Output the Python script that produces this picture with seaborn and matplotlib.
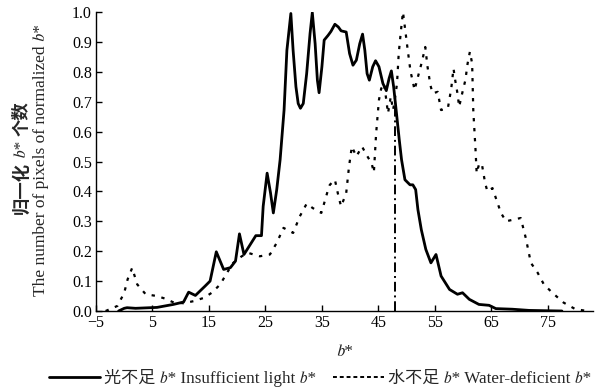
import matplotlib
matplotlib.use("Agg")
import matplotlib.pyplot as plt
import seaborn as sns
import pandas as pd
from matplotlib.lines import Line2D

# Insufficient light b*
light_b = [-1.0, 0.0, 0.5, 2.0, 5.8, 8.7, 10.5, 11.4, 12.6, 14.3, 15.2, 16.3, 17.6, 18.8,
           19.7, 20.4, 21.2, 22.3, 23.3, 24.3, 24.6, 25.3, 25.9, 26.4, 27.0, 27.6, 28.3,
           28.8, 29.5, 29.9, 30.4, 30.8, 31.2, 31.7, 32.3, 32.9, 33.3, 33.8, 34.2, 34.5,
           35.0, 35.4, 36.1, 36.6, 37.3, 37.9, 38.4, 39.3, 39.9, 40.5, 41.1, 41.7, 42.2,
           42.6, 43.0, 43.4, 44.0, 44.5, 45.1, 45.8, 46.4, 46.9, 47.3, 47.7, 48.2, 48.7,
           49.1, 49.7, 50.6, 51.1, 51.6, 52.0, 52.6, 53.4, 54.3, 55.2, 56.1, 57.6, 59.0,
           59.9, 61.1, 62.8, 64.6, 65.8, 68.7, 71.7, 77.5]
light_v = [0.0, 0.009, 0.011, 0.009, 0.012, 0.022, 0.030, 0.063, 0.052, 0.083, 0.100, 0.198,
           0.139, 0.145, 0.167, 0.258, 0.189, 0.222, 0.252, 0.252, 0.350, 0.461, 0.395,
           0.328, 0.406, 0.506, 0.672, 0.872, 0.995, 0.872, 0.750, 0.694, 0.678, 0.694,
           0.794, 0.928, 0.998, 0.894, 0.772, 0.730, 0.817, 0.906, 0.922, 0.935, 0.959,
           0.950, 0.937, 0.933, 0.861, 0.822, 0.839, 0.894, 0.926, 0.872, 0.794, 0.772,
           0.817, 0.837, 0.817, 0.761, 0.737, 0.778, 0.803, 0.750, 0.662, 0.572, 0.506,
           0.439, 0.422, 0.422, 0.406, 0.339, 0.272, 0.206, 0.161, 0.189, 0.117, 0.072,
           0.056, 0.061, 0.039, 0.022, 0.019, 0.008, 0.006, 0.002, 0.0]

# Water-deficient b*
water_b = [-3.3, -1.2, 0.0, 0.6, 1.4, 2.3, 3.8, 5.8, 7.3, 8.8, 10.5, 12.3, 14.1, 15.5, 17.0,
           18.2, 19.3, 20.8, 22.0, 24.0, 25.8, 27.0, 28.2, 29.9, 31.1, 32.3, 33.4, 34.9,
           36.1, 36.4, 37.3, 38.0, 38.4, 39.3, 39.8, 40.3, 41.1, 42.1, 42.9, 43.8, 44.2,
           44.6, 45.1, 45.5, 46.0, 46.4, 46.7, 47.2, 47.6, 47.9, 48.3, 48.6, 49.0, 49.35,
           49.8, 50.2, 50.7, 51.1, 51.4, 52.0, 52.7, 53.3, 53.7, 54.2, 54.6, 55.5, 56.1,
           57.3, 57.9, 58.3, 58.6, 59.0, 59.3, 59.9, 60.4, 60.8, 61.2, 61.6, 61.8, 62.2,
           62.4, 62.8, 63.3, 63.9, 64.3, 65.2, 66.7, 67.6, 69.0, 70.2, 71.1, 72.0, 73.2,
           74.3, 75.8, 77.8, 79.9, 82.0]
water_v = [0.0, 0.017, 0.061, 0.106, 0.144, 0.089, 0.056, 0.050, 0.041, 0.028, 0.026, 0.033,
           0.044, 0.061, 0.089, 0.128, 0.161, 0.183, 0.194, 0.183, 0.189, 0.228, 0.278,
           0.261, 0.317, 0.359, 0.344, 0.328, 0.406, 0.422, 0.439, 0.378, 0.350, 0.394,
           0.483, 0.550, 0.517, 0.550, 0.522, 0.494, 0.463, 0.594, 0.706, 0.744, 0.761,
           0.706, 0.661, 0.717, 0.672, 0.706, 0.761, 0.861, 0.939, 1.000, 0.933, 0.872,
           0.800, 0.767, 0.739, 0.783, 0.833, 0.883, 0.817, 0.756, 0.728, 0.733, 0.672,
           0.678, 0.744, 0.811, 0.772, 0.728, 0.683, 0.733, 0.772, 0.828, 0.867, 0.828,
           0.672, 0.539, 0.461, 0.489, 0.494, 0.428, 0.400, 0.411, 0.328, 0.300, 0.306,
           0.311, 0.244, 0.161, 0.128, 0.089, 0.061, 0.028, 0.006, 0.0]

threshold_b = 48.0
x_ticks = [-5, 5, 15, 25, 35, 45, 55, 65, 75]
y_ticks = [0.0, 0.1, 0.2, 0.3, 0.4, 0.5, 0.6, 0.7, 0.8, 0.9, 1.0]

B = "\U0001D44F"  # mathematical italic small b

sns.set_style("ticks")
FAM = ['Liberation Serif', 'Noto Sans CJK SC', 'STIXGeneral', 'DejaVu Sans']
plt.rcParams['font.family'] = FAM

fig = plt.figure(figsize=(6.12, 3.9), dpi=100)
ax = fig.add_axes([96 / 612, 1 - 311 / 390, (593 - 96) / 612, (311 - 12) / 390])

df_l = pd.DataFrame({"b": light_b, "v": light_v})
df_w = pd.DataFrame({"b": water_b, "v": water_v})
sns.lineplot(data=df_l, x="b", y="v", ax=ax, color="black", lw=2.0, estimator=None, sort=False)
sns.lineplot(data=df_w, x="b", y="v", ax=ax, color="black", lw=1.6, estimator=None, sort=False,
             linestyle=(0, (1.5, 3)))
ax.vlines(threshold_b, 0, 0.70, colors="black", linestyles=(0, (5, 2, 1, 2)), lw=1.4)

ax.set_xlim(-5, 83)
ax.set_ylim(0, 1.0)
ax.set_xticks(x_ticks)
ax.set_yticks(y_ticks)
ax.set_yticklabels([f"{t:.1f}" for t in y_ticks])
ax.tick_params(direction="in", length=4, width=1, labelsize=11.5, colors="black", pad=3)
for s in ["top", "right"]:
    ax.spines[s].set_visible(False)
for s in ["left", "bottom"]:
    ax.spines[s].set_linewidth(1.0)
    ax.spines[s].set_color("black")

ax.set_xlabel(B + "*", fontsize=12.5, labelpad=9)
ax.set_ylabel("")

# Chinese y-label built from pieces (bold Chinese, regular italic b*)
renderer = fig.canvas.get_renderer()
pieces = [("归一化", "bold"), (" " + B + "* ", "normal"), ("个数", "bold")]
x_px = 22
texts = []
total = 0
for s, w in pieces:
    t = fig.text(x_px / 612, 0.5, s, rotation=90, ha="center", va="bottom",
                 fontsize=12.5, fontweight=w, transform=None)
    texts.append(t)
ext = [t.get_window_extent(renderer).height for t in texts]
total = sum(ext)
y0 = (390 - 158) - total / 2
for t, h in zip(texts, ext):
    t.set_transform(fig.transFigure)
    t.set_position((x_px / 612, y0 / 390))
    y0 += h

fig.text(41 / 612, 1 - 160 / 390, "The number of pixels of normalized " + B + "*", rotation=90,
         ha="center", va="center", fontsize=12.5)

handles = [Line2D([], [], color="black", lw=2.0),
           Line2D([], [], color="black", lw=1.4, linestyle=(0, (2, 1.5)))]
labels = ["光不足 " + B + "* Insufficient light " + B + "*",
          "水不足 " + B + "* Water-deficient " + B + "*"]
fig.legend(handles, labels, loc="center", bbox_to_anchor=(0.523, 1 - 378 / 390), ncol=2,
           frameon=False, fontsize=12.3, handlelength=3.0, handletextpad=0.2, columnspacing=1.0)

fig.savefig("out.png", dpi=100)
